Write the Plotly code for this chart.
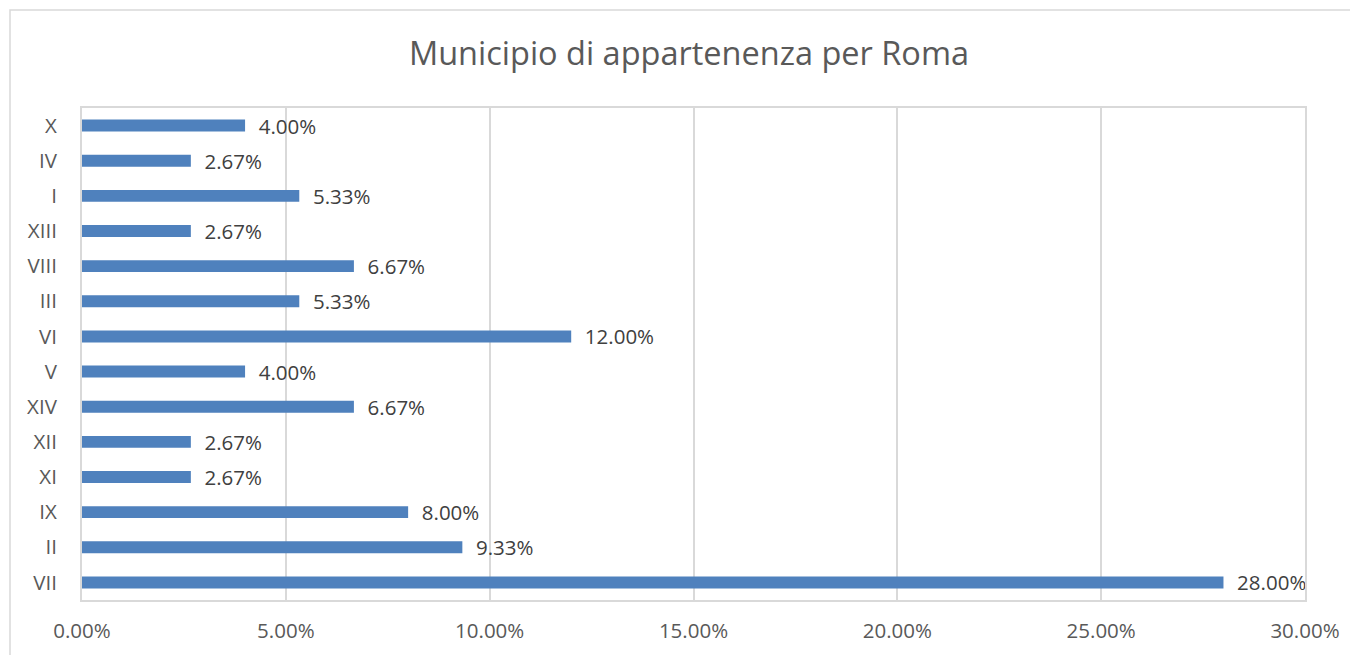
import plotly.graph_objects as go

categories = ["VII", "II", "IX", "XI", "XII", "XIV", "V", "VI", "III", "VIII", "XIII", "I", "IV", "X"]
values = [28.00, 9.33, 8.00, 2.67, 2.67, 6.67, 4.00, 12.00, 5.33, 6.67, 2.67, 5.33, 2.67, 4.00]
tick_vals = [0, 5, 10, 15, 20, 25, 30]
tick_text = ["0.00%", "5.00%", "10.00%", "15.00%", "20.00%", "25.00%", "30.00%"]
title_text = "Municipio di appartenenza per Roma"

OFF = 8  # page body margin
W, H = 1358, 655
L, R, T, B = 82 - OFF, 1305 - OFF, 108 - OFF, 600 - OFF
pw, ph = R - L, B - T

fig = go.Figure(go.Bar(
    y=categories, x=values, orientation="h",
    marker=dict(color="#4F81BD", line=dict(width=0)),
    width=0.34,
    text=["\u00a0\u00a0" + f"{v:.2f}%" for v in values],
    textposition="outside",
    constraintext="none",
    textfont=dict(family="Open Sans", size=20.5, color="#404040"),
    cliponaxis=False,
))

fig.update_layout(
    width=W, height=H,
    margin=dict(l=L, r=W - R, t=T, b=H - B, pad=0),
    paper_bgcolor="white", plot_bgcolor="white",
    font=dict(family="Open Sans", color="#595959"),
    title=dict(text=title_text, x=(689 - OFF) / W, xanchor="center",
               y=1 - (54 - OFF) / H, yanchor="middle",
               font=dict(family="Open Sans", size=32.5, color="#595959")),
    showlegend=False,
    uniformtext=dict(minsize=20, mode="show"),
    xaxis=dict(range=[0, 30], tickvals=tick_vals, ticktext=tick_text,
               showgrid=True, gridcolor="#d9d9d9", gridwidth=1.5,
               zeroline=False, showline=True, linecolor="#d9d9d9", linewidth=2,
               mirror=True, ticks="", tickfont=dict(size=20.5, color="#595959"),
               ticklabelstandoff=11, fixedrange=True),
    yaxis=dict(showgrid=False, zeroline=False, showline=True, linecolor="#d9d9d9",
               linewidth=2, mirror=True, ticks="", ticklabelstandoff=19,
               tickfont=dict(size=20.5, color="#595959"), fixedrange=True),
    bargap=0.66,
    shapes=[dict(type="rect", xref="paper", yref="paper",
                 x0=(10 - OFF - L) / pw, x1=(W + 20 - L) / pw,
                 y0=-(H + 20 - B) / ph, y1=1 + (T - (10 - OFF)) / ph,
                 line=dict(color="#d9d9d9", width=1.5), fillcolor="rgba(0,0,0,0)",
                 layer="below")],
)

fig.write_html("out.html")
